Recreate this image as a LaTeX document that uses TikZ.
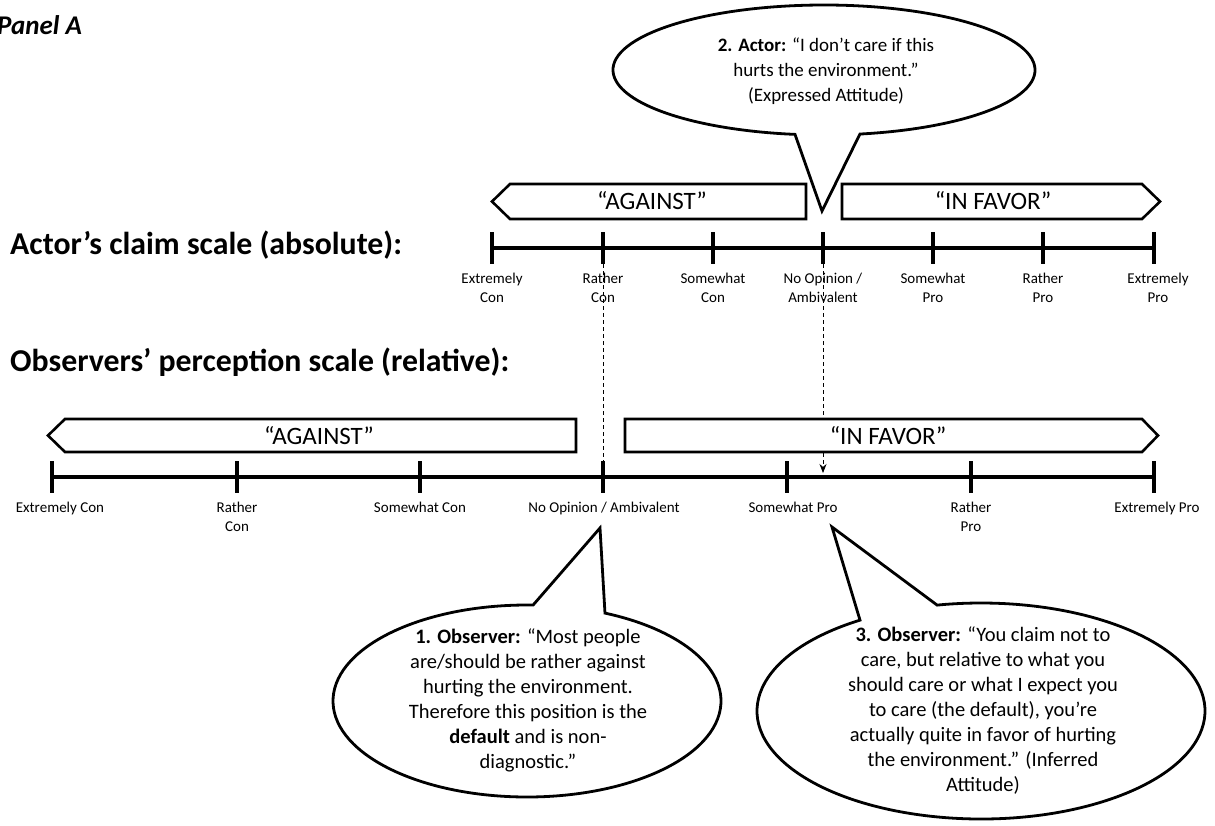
\documentclass[tikz,border=0pt]{standalone}
\usepackage{fontspec}
\setmainfont{Carlito}
\usetikzlibrary{arrows.meta,calc}
\begin{document}
\begin{tikzpicture}[x=1pt,y=-1pt,
  scaleline/.style={line width=3.5pt},
  scaletick/.style={line width=3.5pt},
  banner/.style={draw, line width=2.6pt, fill=white, line join=miter},
  bubble/.style={draw, line width=2.8pt, fill=white, line join=miter},
  lbl/.style={font=\fontsize{15}{19}\selectfont, align=center, inner sep=0pt, anchor=north},
  bantext/.style={font=\fontsize{25}{28}\selectfont, inner sep=0pt},
  bubtext/.style={font=\fontsize{20.5}{25}\selectfont, align=center, inner sep=0pt},
  titletext/.style={font=\fontsize{31.8}{35}\selectfont\bfseries, anchor=west, inner sep=0pt},
  guide/.style={dashed, line width=0.8pt, dash pattern=on 4pt off 3pt}
]
\useasboundingbox (0,0) rectangle (1215,825);

% coordinates of scale points
\foreach \i/\x in {0/492,1/603,2/713,3/823,4/933,5/1043,6/1154}
  \coordinate (t\i) at (\x,248);
\foreach \i/\x in {0/52,1/237,2/420,3/603,4/787,5/971,6/1154}
  \coordinate (b\i) at (\x,477);
\coordinate (b3top) at (603,461);
\coordinate (arrowend) at (823,473);

% Panel label and titles
\node[font=\fontsize{27}{30}\selectfont\bfseries\itshape, anchor=west, inner sep=0pt] (panel) at (-3,25) {Panel A};
\node[titletext] (title1) at (10,245) {Actor’s claim scale (absolute):};
\node[titletext] (title2) at (10,362) {Observers’ perception scale (relative):};

% dashed guides
\draw[guide] ([yshift=-16pt]t1) -- (b3top);
\draw[guide, -{Stealth[length=9pt,width=7pt]}] ([yshift=-16pt]t3) -- (arrowend);

% banners
\draw[banner] (510,184) -- (806,184) -- (806,219) -- (510,219) -- (492,201.5) -- cycle;
\node[bantext] (tagainst) at (652,201) {“AGAINST”};
\draw[banner] (842,184) -- (1142,184) -- (1160,201.5) -- (1142,219) -- (842,219) -- cycle;
\node[bantext] (tfavor) at (993,201) {“IN FAVOR”};
\draw[banner] (65,419) -- (576,419) -- (576,452) -- (65,452) -- (48,435.5) -- cycle;
\node[bantext] (bagainst) at (319,436) {“AGAINST”};
\draw[banner] (625,419) -- (1142,419) -- (1158,435.5) -- (1142,452) -- (625,452) -- cycle;
\node[bantext] (bfavor) at (888,436) {“IN FAVOR”};

% scales
\draw[scaleline] (t0) -- (t6);
\foreach \i in {0,...,6}
  \draw[scaletick] ([yshift=16pt]t\i) -- ([yshift=-16pt]t\i);
\draw[scaleline] (b0) -- (b6);
\foreach \i in {0,...,6}
  \draw[scaletick] ([yshift=16pt]b\i) -- ([yshift=-16pt]b\i);

% top labels
\node[lbl] (lt0) at (492,273) {Extremely\\Con};
\node[lbl] (lt1) at (603,273) {Rather\\Con};
\node[lbl] (lt2) at (713,273) {Somewhat\\Con};
\node[lbl] (lt3) at (823,273) {No Opinion /\\Ambivalent};
\node[lbl] (lt4) at (933,273) {Somewhat\\Pro};
\node[lbl] (lt5) at (1043,273) {Rather\\Pro};
\node[lbl] (lt6) at (1158,273) {Extremely\\Pro};

% bottom labels
\node[lbl] (lb0) at (60,502) {Extremely Con};
\node[lbl] (lb1) at (237,502) {Rather\\Con};
\node[lbl] (lb2) at (420,502) {Somewhat Con};
\node[lbl] (lb3) at (604,502) {No Opinion / Ambivalent};
\node[lbl] (lb4) at (793,502) {Somewhat Pro};
\node[lbl] (lb5) at (971,502) {Rather\\Pro};
\node[lbl] (lb6) at (1157,502) {Extremely Pro};

% callout 2 (actor)
\coordinate (c2) at (824,70);
\coordinate (tip2) at (822,211);
\draw[bubble] (tip2) -- ([shift={(279.8:211pt and 65pt)}]c2)
  arc[start angle=279.8, end angle=622.1, x radius=211pt, y radius=65pt] -- cycle;
\node[bubtext, font=\fontsize{19}{25}\selectfont] (txt2) at (826,71) {\textbf{2. Actor:} “I don’t care if this\\hurts the environment.”\\(Expressed Attitude)};

% callout 1 (observer)
\coordinate (c1) at (527,701);
\coordinate (tip1) at (600,528);
\draw[bubble] (tip1) -- ([shift={(88.2:194pt and 96pt)}]c1)
  arc[start angle=88.2, end angle=426.3, x radius=194pt, y radius=96pt] -- cycle;
\node[bubtext] (txt1) at (528,700) {\textbf{1. Observer:} “Most people\\are/should be rather against\\hurting the environment.\\Therefore this position is the\\\textbf{default} and is non-\\diagnostic.”};

% callout 3 (observer)
\coordinate (c3) at (981,711);
\coordinate (tip3) at (832,527);
\draw[bubble] (tip3) -- ([shift={(122.7:224pt and 108pt)}]c3)
  arc[start angle=122.7, end angle=461.3, x radius=224pt, y radius=108pt] -- cycle;
\node[bubtext] (txt3) at (983,711) {\textbf{3. Observer:} “You claim not to\\care, but relative to what you\\should care or what I expect you\\to care (the default), you’re\\actually quite in favor of hurting\\the environment.” (Inferred\\Attitude)};
\end{tikzpicture}
\end{document}
